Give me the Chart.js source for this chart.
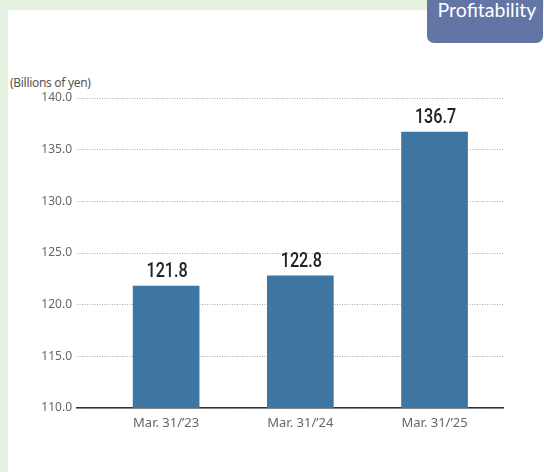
<!DOCTYPE html>
<html>
<head>
<meta charset="utf-8">
<script src="https://cdn.jsdelivr.net/npm/chart.js@4.4.1/dist/chart.umd.min.js"></script>
<style>
  html, body { margin: 0; padding: 0; }
  body { width: 544px; height: 472px; background: #e6f2e0; position: relative; overflow: hidden; font-family: "Noto Sans", sans-serif; }
  #panel { position: absolute; left: 8px; top: 10px; right: 0; bottom: 0; background: #fff; }
  #tab { position: absolute; left: 427px; top: 0; width: 116px; height: 43px; background: #6375a5;
         border-radius: 0 0 7px 7px; color: #fff; font-family: Lato, sans-serif; font-size: 19.5px;
         text-align: center; line-height: 20px; padding-left: 4px; box-sizing: border-box; }
  #unit { position: absolute; left: 10px; top: 74px; font-size: 12px; color: #555; letter-spacing: -0.3px; }
  #wrap { position: absolute; left: 0; top: 0; width: 544px; height: 472px; }
</style>
</head>
<body>
<div id="panel"></div>
<div id="tab">Profitability</div>
<div id="unit">(Billions of yen)</div>
<div id="wrap"><canvas id="myChart" width="544" height="472"></canvas></div>

<script>
 // データ
 var categories = ['Mar. 31/\u201923', 'Mar. 31/\u201924', 'Mar. 31/\u201925'];
 var values = [121.8, 122.8, 136.7];
 var yTicks = [110, 115, 120, 125, 130, 135, 140];

 // 棒の上に値を表示（横に少し詰めた字体）
 var valueLabels = {
   id: 'valueLabels',
   afterDatasetsDraw: function (chart) {
     var ctx = chart.ctx;
     var meta = chart.getDatasetMeta(0);
     meta.data.forEach(function (bar, i) {
       ctx.save();
       ctx.translate(bar.x + 1, bar.y - 9);
       ctx.scale(0.81, 1);
       ctx.font = '500 20px Roboto, sans-serif';
       ctx.fillStyle = '#222';
       ctx.textAlign = 'center';
       ctx.textBaseline = 'alphabetic';
       ctx.fillText(values[i].toFixed(1), 0, 0);
       ctx.restore();
     });
   }
 };

 var ctx = document.getElementById('myChart').getContext('2d');
 var chart = new Chart(ctx, {
     type: 'bar',
     data: {
         datasets: [{
             data: values.map(function (v, i) { return { x: i, y: v }; }),
             backgroundColor: '#3e75a1',
             barThickness: 66
         }]
     },
     options: {
       responsive: false,
       animation: false,
       layout: { padding: { top: 98, right: 41, left: 0, bottom: 0 } },
       plugins: {
         legend: { display: false },
         tooltip: { enabled: false }
       },
       scales: {
         x: {
           type: 'linear',
           offset: false,
           min: -0.664,
           max: 2.51,
           grid: { display: false, offset: false, drawTicks: false },
           border: { display: true, color: '#333', width: 1.5 },
           afterBuildTicks: function (scale) {
             scale.ticks = categories.map(function (c, i) { return { value: i }; });
           },
           afterFit: function (scale) { scale.height = 64; },
           ticks: {
             autoSkip: false,
             padding: 7,
             color: '#666',
             font: { family: '"Noto Sans", sans-serif', size: 13 },
             callback: function (v) { return categories[v]; }
           }
         },
         y: {
           min: 110,
           max: 140,
           afterBuildTicks: function (scale) {
             scale.ticks = yTicks.map(function (v) { return { value: v }; });
           },
           afterFit: function (scale) { scale.width = 77; },
           grid: { color: '#aaa', lineWidth: 1, drawTicks: false },
           border: { display: false, dash: [1, 1.5] },
           ticks: {
             padding: 5,
             color: '#666',
             font: { family: '"Noto Sans", sans-serif', size: 12 },
             callback: function (v) { return v.toFixed(1); }
           }
         }
       }
     },
     plugins: [valueLabels]
 });
</script>
</body>
</html>
